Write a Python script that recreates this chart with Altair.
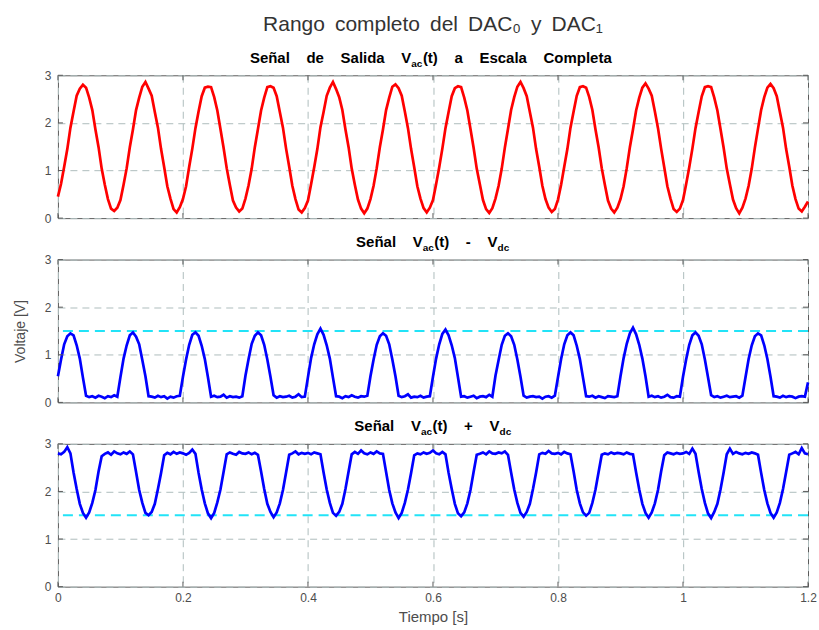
import altair as alt
import pandas as pd

# ---------------- data ----------------
time_s = [round(i * 0.005, 3) for i in range(241)]  # sampling instants, 0 .. 1.2 s

v_full = [
    0.45, 0.72, 1.08, 1.45, 1.90, 2.24, 2.57, 2.72, 2.80, 2.74, 2.53, 2.27, 1.86, 1.49, 1.04, 0.70, 0.40, 0.20, 0.15, 0.22,
    0.38, 0.70, 1.05, 1.49, 1.86, 2.27, 2.53, 2.76, 2.86, 2.72, 2.57, 2.23, 1.90, 1.45, 1.07, 0.67, 0.41, 0.19, 0.12, 0.23,
    0.40, 0.67, 1.08, 1.46, 1.89, 2.24, 2.56, 2.74, 2.76, 2.75, 2.54, 2.26, 1.87, 1.48, 1.05, 0.70, 0.37, 0.22, 0.14, 0.20,
    0.41, 0.69, 1.04, 1.49, 1.87, 2.26, 2.53, 2.75, 2.77, 2.74, 2.56, 2.23, 1.90, 1.46, 1.08, 0.68, 0.40, 0.18, 0.12, 0.21,
    0.37, 0.71, 1.07, 1.45, 1.91, 2.23, 2.57, 2.74, 2.86, 2.71, 2.54, 2.27, 1.86, 1.49, 1.04, 0.70, 0.39, 0.20, 0.10, 0.20,
    0.40, 0.68, 1.05, 1.49, 1.86, 2.27, 2.53, 2.76, 2.81, 2.73, 2.57, 2.24, 1.89, 1.45, 1.07, 0.67, 0.41, 0.21, 0.12, 0.22,
    0.38, 0.71, 1.07, 1.46, 1.89, 2.23, 2.56, 2.73, 2.77, 2.75, 2.53, 2.26, 1.87, 1.48, 1.04, 0.71, 0.38, 0.19, 0.11, 0.21,
    0.41, 0.68, 1.04, 1.48, 1.87, 2.27, 2.54, 2.76, 2.86, 2.73, 2.56, 2.23, 1.90, 1.45, 1.08, 0.68, 0.40, 0.22, 0.13, 0.19,
    0.39, 0.70, 1.08, 1.45, 1.90, 2.24, 2.57, 2.75, 2.77, 2.74, 2.54, 2.27, 1.86, 1.49, 1.05, 0.70, 0.37, 0.20, 0.12, 0.22,
    0.40, 0.67, 1.05, 1.49, 1.86, 2.26, 2.53, 2.74, 2.83, 2.72, 2.57, 2.24, 1.89, 1.46, 1.07, 0.67, 0.41, 0.19, 0.13, 0.20,
    0.38, 0.71, 1.07, 1.46, 1.89, 2.23, 2.56, 2.75, 2.77, 2.75, 2.53, 2.26, 1.87, 1.48, 1.04, 0.71, 0.39, 0.21, 0.10, 0.22,
    0.41, 0.68, 1.04, 1.48, 1.88, 2.27, 2.54, 2.74, 2.82, 2.73, 2.56, 2.23, 1.90, 1.45, 1.08, 0.68, 0.40, 0.20, 0.14, 0.24,
    0.35,
]

v_minus = [
    0.55, 0.90, 1.22, 1.39, 1.45, 1.41, 1.20, 0.92, 0.52, 0.14, 0.11, 0.13, 0.10, 0.14, 0.12, 0.09, 0.13, 0.11, 0.15, 0.12,
    0.53, 0.92, 1.20, 1.41, 1.47, 1.38, 1.22, 0.89, 0.55, 0.13, 0.12, 0.10, 0.14, 0.11, 0.13, 0.08, 0.12, 0.10, 0.13, 0.14,
    0.54, 0.90, 1.21, 1.42, 1.47, 1.40, 1.19, 0.91, 0.53, 0.12, 0.14, 0.11, 0.12, 0.16, 0.10, 0.13, 0.11, 0.12, 0.10, 0.13,
    0.56, 0.91, 1.23, 1.40, 1.47, 1.41, 1.21, 0.90, 0.54, 0.15, 0.10, 0.13, 0.11, 0.12, 0.14, 0.10, 0.12, 0.17, 0.11, 0.12,
    0.53, 0.93, 1.22, 1.43, 1.55, 1.42, 1.20, 0.92, 0.52, 0.13, 0.12, 0.09, 0.13, 0.11, 0.15, 0.12, 0.10, 0.13, 0.12, 0.14,
    0.55, 0.90, 1.21, 1.39, 1.45, 1.40, 1.22, 0.90, 0.55, 0.14, 0.11, 0.13, 0.17, 0.10, 0.12, 0.11, 0.14, 0.10, 0.12, 0.13,
    0.54, 0.92, 1.22, 1.44, 1.53, 1.41, 1.20, 0.93, 0.53, 0.12, 0.13, 0.10, 0.12, 0.14, 0.09, 0.12, 0.13, 0.11, 0.16, 0.12,
    0.56, 0.89, 1.21, 1.40, 1.45, 1.39, 1.21, 0.90, 0.54, 0.14, 0.10, 0.12, 0.13, 0.11, 0.12, 0.08, 0.12, 0.13, 0.10, 0.14,
    0.53, 0.91, 1.22, 1.41, 1.47, 1.41, 1.19, 0.91, 0.52, 0.13, 0.12, 0.14, 0.10, 0.13, 0.11, 0.09, 0.13, 0.12, 0.11, 0.13,
    0.55, 0.93, 1.23, 1.45, 1.57, 1.43, 1.21, 0.92, 0.55, 0.12, 0.14, 0.11, 0.13, 0.10, 0.12, 0.16, 0.11, 0.10, 0.13, 0.12,
    0.54, 0.90, 1.21, 1.41, 1.47, 1.40, 1.22, 0.90, 0.53, 0.15, 0.11, 0.13, 0.10, 0.12, 0.14, 0.11, 0.12, 0.13, 0.10, 0.14,
    0.53, 0.91, 1.20, 1.39, 1.45, 1.41, 1.20, 0.91, 0.54, 0.13, 0.12, 0.10, 0.14, 0.11, 0.13, 0.12, 0.09, 0.12, 0.13, 0.12,
    0.42,
]

v_plus = [
    2.80, 2.78, 2.83, 2.93, 2.80, 2.40, 2.05, 1.74, 1.55, 1.45, 1.56, 1.76, 2.03, 2.42, 2.74, 2.79, 2.82, 2.77, 2.84, 2.80,
    2.78, 2.82, 2.79, 2.84, 2.78, 2.41, 2.03, 1.76, 1.55, 1.50, 1.57, 1.74, 2.05, 2.39, 2.76, 2.81, 2.78, 2.83, 2.79, 2.82,
    2.80, 2.77, 2.81, 2.88, 2.79, 2.39, 2.04, 1.75, 1.54, 1.44, 1.55, 1.77, 2.04, 2.41, 2.78, 2.82, 2.79, 2.77, 2.83, 2.80,
    2.79, 2.82, 2.78, 2.81, 2.77, 2.42, 2.05, 1.74, 1.57, 1.46, 1.56, 1.75, 2.03, 2.40, 2.77, 2.80, 2.84, 2.78, 2.81, 2.79,
    2.81, 2.78, 2.82, 2.80, 2.78, 2.40, 2.04, 1.76, 1.55, 1.49, 1.57, 1.74, 2.05, 2.42, 2.78, 2.83, 2.79, 2.86, 2.80, 2.78,
    2.82, 2.79, 2.84, 2.80, 2.79, 2.41, 2.03, 1.75, 1.56, 1.44, 1.55, 1.76, 2.04, 2.39, 2.76, 2.80, 2.78, 2.82, 2.79, 2.81,
    2.86, 2.80, 2.78, 2.83, 2.78, 2.39, 2.05, 1.74, 1.54, 1.48, 1.56, 1.75, 2.03, 2.41, 2.77, 2.79, 2.82, 2.78, 2.84, 2.80,
    2.79, 2.82, 2.80, 2.84, 2.77, 2.40, 2.04, 1.76, 1.55, 1.47, 1.57, 1.74, 2.05, 2.40, 2.78, 2.81, 2.79, 2.85, 2.80, 2.79,
    2.81, 2.78, 2.83, 2.80, 2.78, 2.42, 2.03, 1.75, 1.56, 1.49, 1.55, 1.76, 2.04, 2.41, 2.77, 2.80, 2.78, 2.82, 2.79, 2.81,
    2.80, 2.78, 2.82, 2.79, 2.78, 2.40, 2.04, 1.74, 1.55, 1.45, 1.56, 1.75, 2.03, 2.42, 2.76, 2.82, 2.80, 2.78, 2.81, 2.79,
    2.80, 2.83, 2.79, 2.90, 2.79, 2.41, 2.05, 1.76, 1.54, 1.44, 1.57, 1.74, 2.04, 2.40, 2.78, 2.90, 2.79, 2.83, 2.80, 2.78,
    2.81, 2.79, 2.82, 2.80, 2.77, 2.39, 2.03, 1.75, 1.55, 1.45, 1.56, 1.76, 2.05, 2.41, 2.77, 2.80, 2.83, 2.78, 2.91, 2.80,
    2.78,
]

vdc_level = [1.5]
x_ticks = [0, 0.2, 0.4, 0.6, 0.8, 1.0, 1.2]
y_ticks = [0, 1, 2, 3]

main_title = "Rango completo del DAC₀ y DAC₁"
subtitles = [
    [("Señal de Salida V", "ac", "(t) a Escala Completa")],
    [("Señal V", "ac", "(t) - V"), ("", "dc", "")],
    [("Señal V", "ac", "(t) + V"), ("", "dc", "")],
]
y_title = "Voltaje [V]"
x_title = "Tiempo [s]"

assert len(v_full) == len(v_minus) == len(v_plus) == len(time_s)

# ---------------- style ----------------
W, H = 751, 143
FONT = "Liberation Sans, Arial, Helvetica, sans-serif"
GRID = "#aebdbd"
LABEL = "#4d4d4d"
FRAME = "#5a5a5a"
CYAN = "#22e3f7"
NB = "\u00a0"


def wide(s, gap):
    return s.replace(" ", gap)


def txt(s, x, y, size, weight="bold", align="left", font=FONT, color="#000000"):
    return alt.Chart(pd.DataFrame({"k": [0]})).mark_text(
        align=align, baseline="alphabetic", font=font, fontSize=size,
        fontWeight=weight, color=color
    ).encode(x=alt.value(x), y=alt.value(y), text=alt.value(s))


# subtitle layouts: (x of subscript start, x of following text start) per subscript
SUB_POS = [
    [(353.8, 365.4)],
    [(365.2, 376.8), (440.2, 452.0)],
    [(363.4, 375.0), (442.2, 454.0)],
]


def panel(values, color, idx):
    df = pd.DataFrame({"t": time_s, "v": values})
    show_x = idx == 2
    xscale = alt.Scale(domain=[0, 1.2], nice=False, zero=False)
    yscale = alt.Scale(domain=[0, 3], nice=False, zero=False)
    xax = alt.Axis(
        values=x_ticks, grid=True, gridColor=GRID, gridDash=[7, 5], gridWidth=1,
        ticks=False, tickSize=0, domain=False, labels=show_x, labelFlush=False,
        format="~g", labelFont=FONT, labelFontSize=12, labelColor=LABEL, labelPadding=6,
        title=x_title if show_x else "", titleFont=FONT, titleFontSize=15,
        titleFontWeight="normal", titleColor=LABEL, titlePadding=6,
    )
    yax = alt.Axis(
        values=y_ticks, grid=True, gridColor=GRID, gridDash=[7, 5], gridWidth=1,
        ticks=False, tickSize=0, domain=False, labelFlush=False,
        labelFont=FONT, labelFontSize=12, labelColor=LABEL, labelPadding=7,
        title=y_title, titleFont=FONT, titleFontSize=14, titleFontWeight="normal",
        titleColor=LABEL, titleOpacity=1 if idx == 1 else 0,
        titleX=-37, titleY=H / 2, titleBaseline="middle",
    )
    X = lambda f: alt.X(f, scale=xscale, axis=xax)
    Y = lambda f: alt.Y(f, scale=yscale, axis=yax)
    layers = []
    if idx > 0:
        layers.append(
            alt.Chart(pd.DataFrame({"v": vdc_level})).mark_rule(
                color=CYAN, strokeWidth=2, strokeDash=[10, 6]
            ).encode(y=Y("v:Q"))
        )
    layers.append(
        alt.Chart(df).mark_line(color=color, strokeWidth=2.7).encode(x=X("t:Q"), y=Y("v:Q"))
    )
    xt = pd.DataFrame({"t": x_ticks})
    yt = pd.DataFrame({"v": y_ticks})
    layers.append(alt.Chart(xt).mark_rule(color=FRAME, strokeWidth=1).encode(
        x=X("t:Q"), y=alt.value(0), y2=alt.value(5)))
    layers.append(alt.Chart(xt).mark_rule(color=FRAME, strokeWidth=1).encode(
        x=X("t:Q"), y=alt.value(H), y2=alt.value(H - 5)))
    layers.append(alt.Chart(yt).mark_rule(color=FRAME, strokeWidth=1).encode(
        y=Y("v:Q"), x=alt.value(0), x2=alt.value(5)))
    layers.append(alt.Chart(yt).mark_rule(color=FRAME, strokeWidth=1).encode(
        y=Y("v:Q"), x=alt.value(W), x2=alt.value(W - 5)))

    # subtitle made of pieces so that the subscripts are real smaller text
    base_y, sub_y = -12.5, -8.5
    for k, (pre, sub, post) in enumerate(subtitles[idx]):
        xs, xp = SUB_POS[idx][k]
        if pre:
            layers.append(txt(wide(pre, NB * 4), xs, base_y, 15, align="right"))
        layers.append(txt(sub, xs, sub_y, 10))
        if post:
            layers.append(txt(wide(post, NB * 4), xp, base_y, 15))
    if idx == 0:
        layers.append(txt(wide(main_title, NB + "\u2009"), W / 2, -44, 21, weight="normal",
                          align="center", color="#333333"))
    return alt.layer(*layers).properties(width=W, height=H)


chart = alt.vconcat(
    panel(v_full, "#ff0000", 0),
    panel(v_minus, "#0000ff", 1),
    panel(v_plus, "#0000ff", 2),
    spacing=41.5, bounds="flush",
).properties(
    padding={"left": 13, "top": 13, "right": 2, "bottom": 1},
    background="white",
).configure_view(stroke=FRAME, strokeWidth=1)

chart.save("out.html", embed_options={"renderer": "svg", "actions": False})
